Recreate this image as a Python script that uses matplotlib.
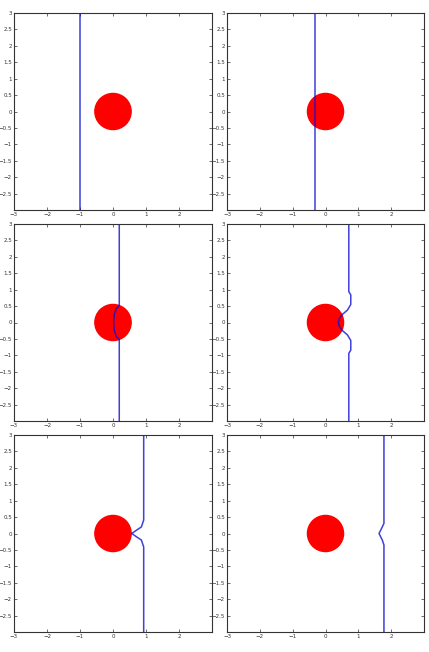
import numpy as np
import matplotlib
matplotlib.use('Agg')
import matplotlib.pyplot as plt
from matplotlib.patches import Circle

# front position for each snapshot (x, y points of the blue curve)
front_x = [
    [-1.0, -1.0],
    [-0.32, -0.32],
    [0.19, 0.19, 0.1, 0.04, 0.02, 0.04, 0.1, 0.19, 0.19],
    [0.71, 0.71, 0.77, 0.77, 0.67, 0.52, 0.42, 0.39, 0.42, 0.52, 0.67, 0.77, 0.77, 0.71, 0.71],
    [0.93, 0.93, 0.86, 0.71, 0.57, 0.71, 0.86, 0.93, 0.93],
    [1.78, 1.78, 1.73, 1.63, 1.73, 1.78, 1.78],
]
front_y = [
    [3.0, -3.0],
    [3.0, -3.0],
    [3.0, 0.52, 0.42, 0.25, 0.0, -0.25, -0.42, -0.52, -3.0],
    [3.0, 0.94, 0.84, 0.55, 0.38, 0.25, 0.12, 0.0, -0.12, -0.25, -0.38, -0.55, -0.84, -0.94, -3.0],
    [3.0, 0.41, 0.2, 0.1, 0.0, -0.1, -0.2, -0.41, -3.0],
    [3.0, 0.31, 0.2, 0.0, -0.2, -0.35, -3.0],
]
obstacle_center = (0.0, 0.0)
obstacle_radius = 0.55

xticks = [-3, -2, -1, 0, 1, 2]
yticks = [-2.5, -2, -1.5, -1, -0.5, 0, 0.5, 1, 1.5, 2, 2.5, 3]

fig = plt.figure(figsize=(4.29, 6.52), dpi=100)

W, H = 429.0, 652.0
col_left = [14, 227]
col_width = [198, 197]
row_top = [13, 224, 435]
ax_h = 197

for i in range(6):
    r, c = divmod(i, 2)
    ax = fig.add_axes([col_left[c] / W, 1 - (row_top[r] + ax_h) / H,
                       col_width[c] / W, ax_h / H])
    ax.add_patch(Circle(obstacle_center, obstacle_radius, color='red', zorder=1))
    ax.plot(front_x[i], front_y[i], color='#1010d0', lw=1.1, alpha=0.8, zorder=2)
    ax.set_xlim(-3, 3)
    ax.set_ylim(-3, 3)
    ax.set_xticks(xticks)
    ax.set_yticks(yticks)
    ax.set_xticklabels([f'{t:g}'.replace('-', '\u2212') for t in xticks])
    ax.set_yticklabels([f'{t:g}'.replace('-', '\u2212') for t in yticks])
    ax.tick_params(direction='in', length=2, width=0.5, top=True, right=True,
                   labelsize=4, pad=1.5, colors='#333333', labelcolor='#333333')
    for s in ax.spines.values():
        s.set_linewidth(0.8)
        s.set_color('#333333')

fig.savefig('out.png', dpi=100)
